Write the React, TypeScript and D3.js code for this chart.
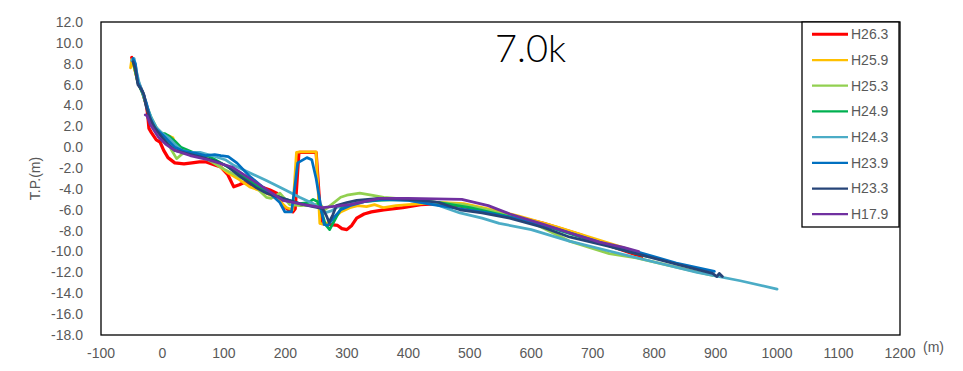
import React from "react";
import * as d3 from "d3";

type Pt = [number, number];

const xTicks = [-100, 0, 100, 200, 300, 400, 500, 600, 700, 800, 900, 1000, 1100, 1200];
const yTicks = [12, 10, 8, 6, 4, 2, 0, -2, -4, -6, -8, -10, -12, -14, -16, -18];

const seriesNames = ["H26.3", "H25.9", "H25.3", "H24.9", "H24.3", "H23.9", "H23.3", "H17.9"];
const seriesColors = ["#FF0000", "#FFC000", "#92D050", "#00B050", "#4BACC6", "#0070C0", "#264478", "#7030A0"];

const h263: Pt[] = [[-50,8.6],[-46,7.8],[-40,6.3],[-32,5.2],[-26,4.0],[-24,3.1],[-22,1.8],[-18,1.4],[-10,0.7],[-4,0.5],[2,-0.3],[9,-1.0],[20,-1.5],[35,-1.6],[48,-1.5],[60,-1.4],[70,-1.4],[85,-1.7],[95,-1.9],[106,-2.6],[116,-3.8],[125,-3.6],[132,-3.4],[145,-3.6],[160,-3.8],[175,-4.1],[186,-4.4],[196,-5.6],[205,-6.0],[212,-6.2],[216,-5.9],[222,-0.5],[250,-0.5],[258,-7.3],[270,-7.4],[285,-7.5],[292,-7.8],[300,-7.9],[308,-7.5],[316,-6.8],[328,-6.4],[340,-6.2],[360,-6.0],[391,-5.8],[420,-5.5],[450,-5.4],[480,-5.6],[520,-6.0],[565,-6.5],[620,-7.3],[680,-8.4],[730,-9.5],[780,-10.5]];
const h259: Pt[] = [[-52,7.6],[-50,8.4],[-46,7.6],[-40,6.2],[-32,5.2],[-25,3.8],[-20,2.6],[-12,1.6],[0,1.2],[10,1.1],[17,0.9],[22,0.1],[30,-0.3],[45,-0.6],[60,-0.8],[80,-1.3],[105,-2.4],[125,-3.1],[142,-3.8],[165,-4.3],[186,-4.9],[202,-5.8],[212,-6.0],[218,-0.5],[224,-0.45],[250,-0.45],[256,-7.3],[264,-7.4],[275,-7.0],[290,-6.2],[305,-5.8],[318,-5.6],[332,-5.7],[345,-5.5],[360,-5.8],[380,-5.6],[400,-5.5],[450,-5.3],[490,-5.4],[530,-5.9],[580,-6.6],[640,-7.6],[700,-8.7],[760,-9.8]];
const h253: Pt[] = [[-48,8.4],[-40,6.2],[-32,5.2],[-25,3.8],[-18,2.8],[-10,1.9],[0,1.1],[8,0.6],[15,-0.3],[23,-1.1],[33,-0.6],[45,-0.6],[60,-0.8],[80,-1.4],[100,-2.1],[120,-2.7],[140,-3.3],[150,-3.6],[160,-4.3],[169,-4.8],[177,-4.9],[191,-4.4],[200,-5.0],[207,-5.5],[225,-5.6],[248,-5.5],[256,-5.4],[264,-6.0],[275,-5.5],[290,-4.8],[300,-4.6],[321,-4.4],[340,-4.6],[360,-4.8],[400,-5.0],[450,-5.3],[490,-5.5],[530,-6.0],[600,-7.2],[662,-9.0],[727,-10.2],[771,-10.6],[836,-11.5],[895,-12.3]];
const h249: Pt[] = [[-48,8.3],[-40,6.2],[-32,5.1],[-25,3.8],[-18,2.7],[-10,1.8],[0,1.3],[4,1.3],[12,1.0],[20,0.6],[30,0.0],[50,-0.5],[77,-0.9],[95,-1.5],[115,-2.2],[140,-3.1],[169,-4.3],[195,-4.9],[223,-5.4],[238,-5.3],[245,-5.0],[252,-5.2],[258,-6.0],[265,-7.4],[272,-7.9],[282,-6.8],[292,-5.7],[316,-5.3],[350,-5.1],[400,-5.0],[450,-5.3],[500,-5.8],[560,-6.6],[620,-7.5],[680,-8.6],[740,-9.7],[790,-10.5]];
const h243: Pt[] = [[-50,8.3],[-46,8.5],[-42,7.2],[-38,6.2],[-32,5.2],[-25,3.9],[-18,2.8],[-10,1.9],[0,1.3],[10,0.9],[20,0.3],[31,-0.3],[45,-0.5],[61,-0.5],[80,-0.8],[102,-1.2],[115,-1.7],[140,-2.4],[169,-3.2],[200,-4.1],[223,-4.8],[245,-5.4],[255,-5.8],[264,-6.3],[275,-6.1],[283,-5.8],[300,-5.4],[330,-5.1],[360,-5.0],[400,-5.1],[440,-5.4],[484,-6.3],[520,-6.8],[548,-7.3],[600,-7.9],[662,-9.0],[730,-10.0],[800,-11.0],[870,-12.0],[940,-12.8],[1000,-13.6]];
const h239: Pt[] = [[-48,8.5],[-44,8.0],[-40,6.2],[-32,5.3],[-26,4.2],[-20,2.8],[-12,1.8],[0,1.2],[10,0.6],[20,0.0],[35,-0.4],[55,-0.6],[70,-0.8],[85,-0.7],[95,-0.8],[107,-0.9],[121,-1.5],[142,-2.8],[169,-4.1],[191,-5.3],[199,-6.2],[210,-6.2],[216,-3.5],[220,-1.5],[235,-1.0],[243,-1.2],[250,-3.0],[256,-5.1],[263,-7.4],[269,-7.5],[278,-6.8],[290,-6.0],[305,-5.6],[330,-5.2],[360,-5.0],[400,-5.1],[440,-5.5],[484,-5.9],[530,-6.3],[580,-6.9],[640,-7.8],[700,-8.9],[727,-9.4],[771,-10.0],[836,-11.1],[898,-11.9]];
const h233: Pt[] = [[-48,8.2],[-44,7.5],[-40,6.0],[-34,5.5],[-30,5.0],[-27,4.0],[-22,3.0],[-16,2.2],[-8,1.5],[0,0.9],[10,0.2],[20,-0.3],[40,-0.6],[60,-0.9],[85,-1.3],[105,-1.8],[126,-2.8],[153,-3.9],[169,-4.4],[196,-4.9],[223,-5.4],[245,-5.7],[261,-5.9],[267,-6.6],[271,-7.2],[277,-6.5],[283,-5.6],[300,-5.3],[316,-5.1],[353,-4.9],[380,-4.95],[420,-5.1],[450,-5.3],[484,-6.0],[520,-6.3],[565,-6.8],[620,-7.7],[662,-8.6],[727,-9.5],[771,-10.2],[836,-11.2],[895,-12.1],[902,-12.4],[906,-12.1],[911,-12.4]];
const h179: Pt[] = [[-28,3.1],[-25,3.0],[-20,2.2],[-7,1.0],[5,0.3],[20,-0.3],[45,-0.8],[74,-1.2],[113,-1.9],[150,-3.3],[196,-5.1],[230,-5.5],[261,-5.8],[305,-5.5],[353,-4.9],[400,-4.9],[487,-5.0],[530,-5.6],[565,-6.4],[620,-7.4],[662,-8.2],[711,-9.1],[750,-9.6],[775,-10.0]];

const seriesData: Pt[][] = [h263, h259, h253, h249, h243, h239, h233, h179];

const FONT = "'Liberation Sans', Arial, sans-serif";
const GRAY = "#595959";

export default function App() {
  const x = d3.scaleLinear().domain([-100, 1200]).range([101, 900]);
  const y = d3.scaleLinear().domain([-18, 12]).range([335, 22]);
  const line = d3.line<Pt>().x((d) => x(d[0])).y((d) => y(d[1]));

  const legendX = 802;
  const legendTop = 22;
  const legendStep = 25.7;

  return (
    <svg
      width={963}
      height={371}
      style={{ position: "absolute", left: 0, top: 0, background: "#fff" }}
      fontFamily={FONT}
    >
      <rect x={0} y={0} width={963} height={371} fill="#fff" />
      {seriesData.map((d, i) => (
        <path
          key={seriesNames[i]}
          d={line(d) || ""}
          fill="none"
          stroke={seriesColors[i]}
          strokeWidth={i === 0 ? 3.25 : 2.75}
          strokeLinejoin="round"
          strokeLinecap="round"
        />
      ))}
      <rect x={101} y={22} width={799} height={313} fill="none" stroke="#000" strokeWidth={1.3} />
      {yTicks.map((t) => (
        <text key={t} x={83} y={y(t)} dy="0.35em" textAnchor="end" fontSize={14} fill={GRAY}>
          {t.toFixed(1)}
        </text>
      ))}
      {xTicks.map((t) => (
        <text key={t} x={x(t)} y={358} textAnchor="middle" fontSize={14} fill={GRAY}>
          {t}
        </text>
      ))}
      <text x={923} y={352} fontSize={14} fill={GRAY}>(m)</text>
      <text
        transform={`translate(40,${y(-3)}) rotate(-90)`}
        textAnchor="middle"
        fontSize={14}
        fill={GRAY}
      >
        T.P.(m)
      </text>
      <text x={495} y={62} fontSize={38} fontFamily="Lato, 'Liberation Sans', sans-serif" fontWeight={300} fill="#000">
        7.0k
      </text>
      <rect x={legendX} y={legendTop} width={97} height={205} fill="#fff" stroke="#000" strokeWidth={1.3} />
      {seriesNames.map((n, i) => {
        const cy = 34.3 + i * legendStep;
        return (
          <g key={n}>
            <line
              x1={812}
              x2={848}
              y1={cy}
              y2={cy}
              stroke={seriesColors[i]}
              strokeWidth={i === 0 ? 3 : 2.25}
            />
            <text x={851} y={cy} dy="0.35em" fontSize={14} fill={GRAY}>
              {n}
            </text>
          </g>
        );
      })}
    </svg>
  );
}
